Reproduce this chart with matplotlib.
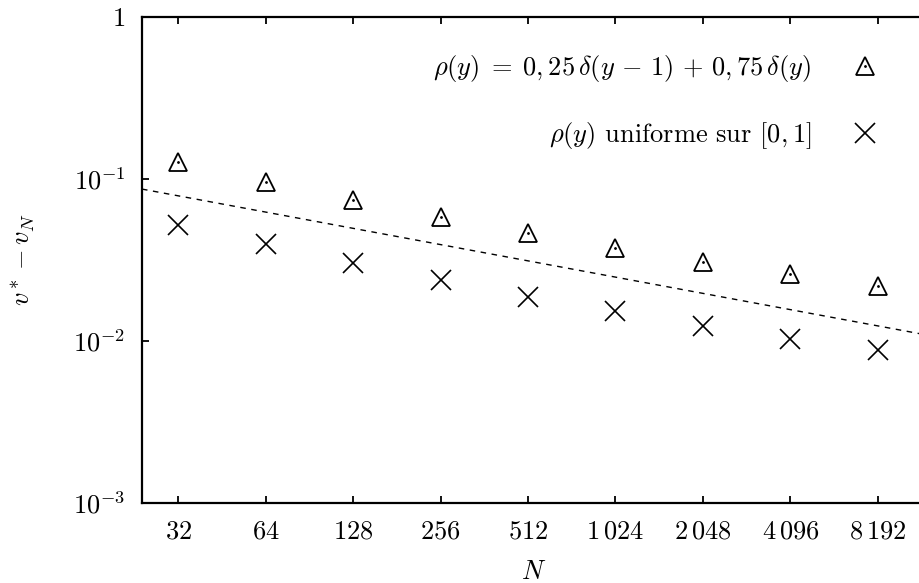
import matplotlib
matplotlib.use('Agg')
import matplotlib.pyplot as plt
import numpy as np

plt.rcParams['mathtext.fontset'] = 'cm'
plt.rcParams['font.family'] = 'serif'
plt.rcParams['font.serif'] = ['cmr10', 'DejaVu Serif']
plt.rcParams['axes.formatter.use_mathtext'] = True

N = [32, 64, 128, 256, 512, 1024, 2048, 4096, 8192]
n_labels = [r'$32$', r'$64$', r'$128$', r'$256$', r'$512$',
            r'$1\,024$', r'$2\,048$', r'$4\,096$', r'$8\,192$']
err_dirac = [0.127, 0.0958, 0.0742, 0.0582, 0.0464, 0.0375, 0.0307, 0.0259, 0.0219]
err_unif = [0.052, 0.0397, 0.0303, 0.0238, 0.0187, 0.0153, 0.0124, 0.0103, 0.0088]
y_ticks = [1e-3, 1e-2, 1e-1, 1]
y_labels = [r'$10^{-3}$', r'$10^{-2}$', r'$10^{-1}$', r'$1$']

# reference slope  C * N^(-1/3)
ref_coef = 0.25
ref_exp = -1.0 / 3.0

fs = 19

fig = plt.figure(figsize=(9.19, 5.83), dpi=100)
ax = fig.add_axes([0.1545, 0.1372, 0.853, 0.8336])

xx = np.array([24, 12000])
ax.plot(xx, ref_coef * xx ** ref_exp, color='k', lw=1.0, dashes=(4, 4))

tri, = ax.plot(N, err_dirac, ls='none', marker='^', ms=13.5, mfc='none',
               mec='k', mew=1.3)
dot, = ax.plot(N, err_dirac, ls='none', marker='.', ms=2, color='k')
crs, = ax.plot(N, err_unif, ls='none', marker='x', ms=14, mec='k', mew=1.2)

ax.set_xscale('log')
ax.set_yscale('log')
ax.set_xlim(24, 12000)
ax.set_ylim(1e-3, 1)
ax.set_xticks(N)
ax.set_xticklabels(n_labels)
ax.set_yticks(y_ticks)
ax.set_yticklabels(y_labels)
ax.minorticks_off()
ax.tick_params(direction='in', length=5, width=1.3, labelsize=fs, pad=12,
               top=True, right=True)

for s in ax.spines.values():
    s.set_linewidth(1.6)

ax.set_xlabel(r'$N$', fontsize=fs, labelpad=12)
ax.set_ylabel(r'$v^* - v_N$', fontsize=fs, labelpad=26)

fig.legend([(tri, dot), crs],
           [r'$\rho(y) \;=\; 0,25\,\delta(y \,-\, 1) \,+\, 0,75\,\delta(y)$',
            r'$\rho(y)$ uniforme sur $[0,1]$'],
           loc='upper right', bbox_to_anchor=(889 / 919, 1 - 40 / 583),
           frameon=False, markerfirst=False, alignment='right',
           numpoints=1, handlelength=0.8, handletextpad=1.65,
           labelspacing=1.35, borderpad=0, fontsize=fs)

fig.savefig('out.png', dpi=100)
